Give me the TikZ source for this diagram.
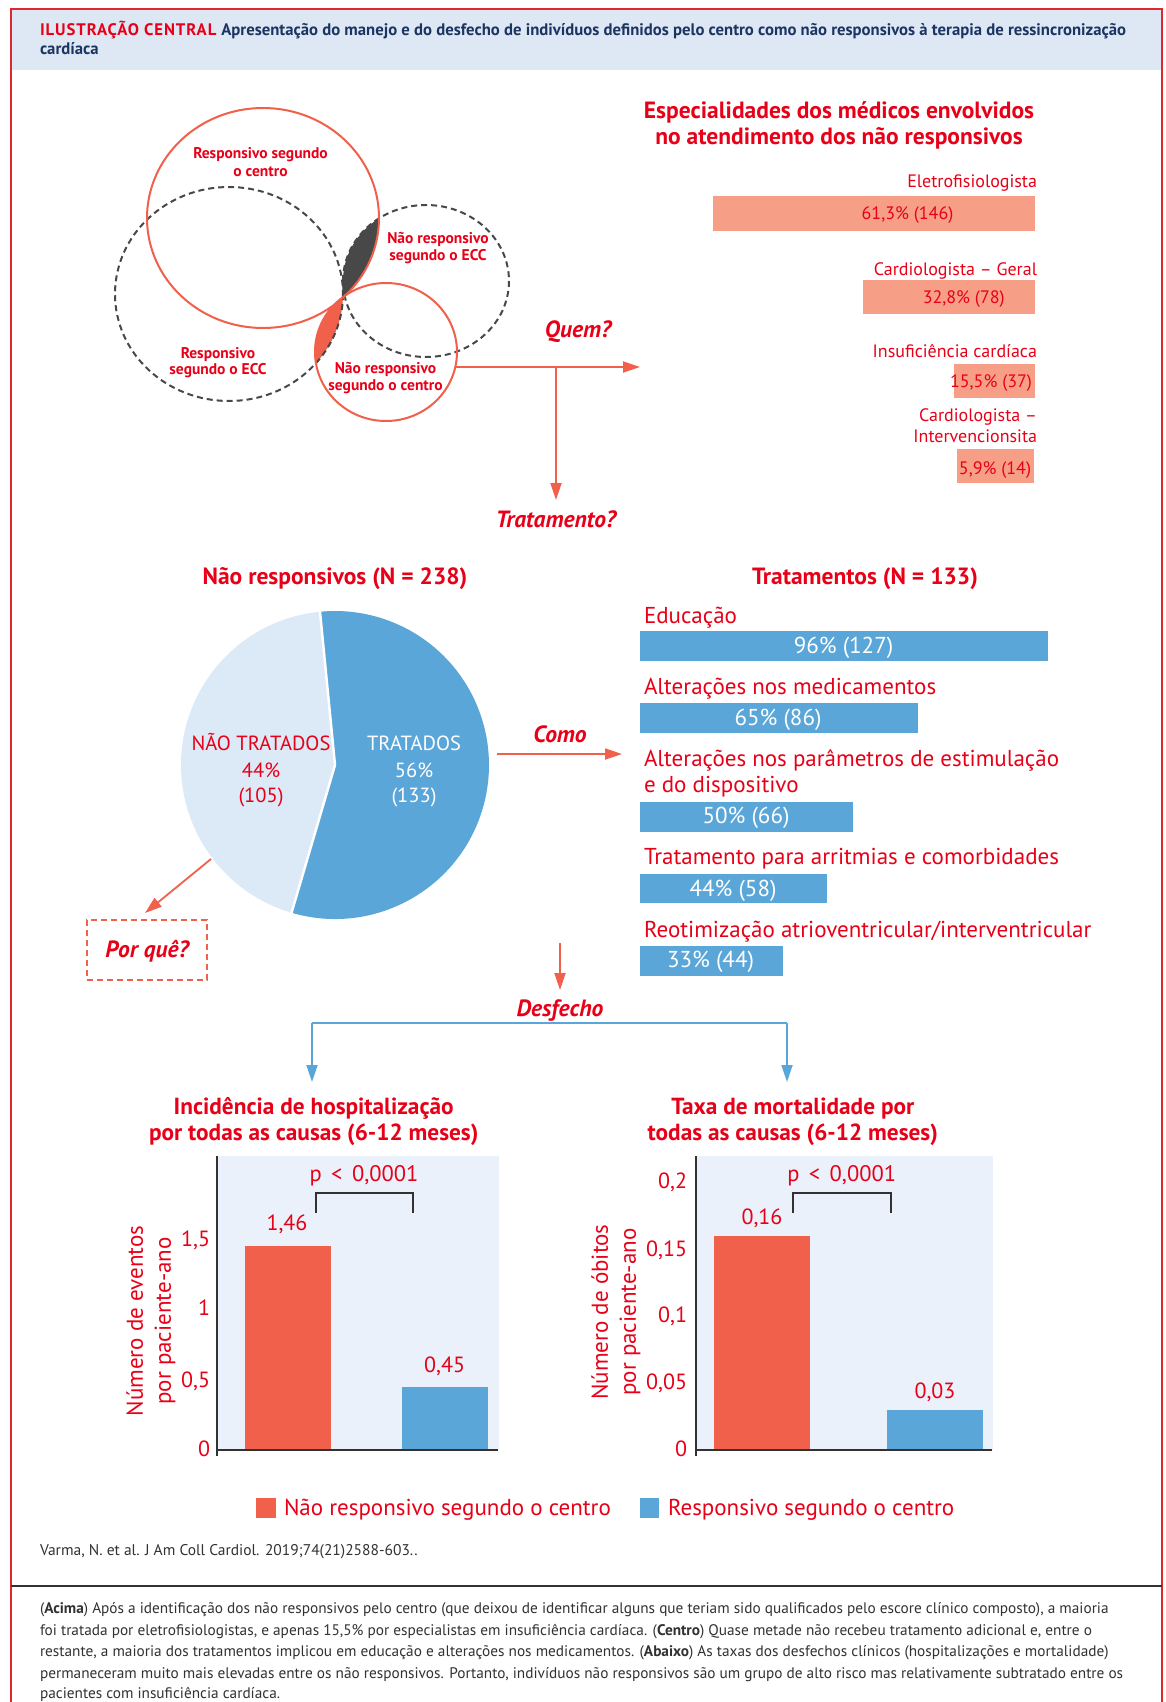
\documentclass[tikz,border=0pt]{standalone}
\usepackage{fontspec}
\setmainfont{PT Sans}
\usetikzlibrary{arrows.meta}
\definecolor{cred}{RGB}{232,0,24}
\definecolor{csal}{RGB}{240,96,74}
\definecolor{cbarsal}{RGB}{246,158,134}
\definecolor{cblue}{RGB}{91,166,217}
\definecolor{cpie}{RGB}{220,233,246}
\definecolor{cbg}{RGB}{234,241,250}
\definecolor{chead}{RGB}{221,232,244}
\definecolor{cnavy}{RGB}{28,52,98}
\definecolor{cframe}{RGB}{222,40,46}
\definecolor{cdash}{RGB}{72,72,72}
\definecolor{caxis}{RGB}{50,50,50}
\definecolor{cfoot}{RGB}{50,50,50}
\newcommand\fsz[1]{\fontsize{#1}{#1}\selectfont}
\newcommand\fszl[2]{\fontsize{#1}{#2}\selectfont}
\begin{document}
\begin{tikzpicture}[x=1pt,y=-1pt,
  every node/.style={inner sep=0pt, outer sep=0pt},
  venlbl/.style={text=cred, font=\bfseries\fsz{15.5}, anchor=base},
  sectitle/.style={text=cred, font=\bfseries\fsz{23.5}, anchor=base},
  charttitle/.style={text=cred, font=\bfseries\fsz{23.3}, anchor=base},
  spelbl/.style={text=cred, font=\fsz{18}, anchor=base east},
  speval/.style={text=cred, font=\fsz{18}, anchor=base},
  trlbl/.style={text=cred, font=\fsz{23}, anchor=base west},
  trval/.style={text=white, font=\fsz{23}, anchor=base},
  question/.style={text=cred, font=\bfseries\itshape\fsz{23.5}, anchor=base},
  conn/.style={draw=csal, line width=1.8pt, -{Triangle[length=17pt,width=11pt]}},
  bconn/.style={draw=cblue, line width=1.8pt, -{Triangle[length=17pt,width=11pt]}},
  bline/.style={draw=cblue, line width=1.8pt},
  dashell/.style={draw=cdash, line width=2pt, dash pattern=on 6pt off 4pt},
  redell/.style={draw=csal, line width=2pt},
  pielbl/.style={font=\fsz{20.5}, anchor=base},
  chartval/.style={text=cred, font=\fsz{22}, anchor=base},
  ticklbl/.style={text=cred, font=\fsz{22}, anchor=base east},
  axisline/.style={draw=caxis, line width=2.5pt},
  brk/.style={draw=caxis, line width=2pt},
  legtxt/.style={text=cred, font=\fsz{23}, anchor=base west},
  footln/.style={text=cfoot, font=\fsz{15.3}, anchor=base west},
  axtitle/.style={text=cred, font=\fszl{23}{28}, align=center, rotate=90}
]
\useasboundingbox (0,0) rectangle (1166,1702);
\fill[white] (0,0) rectangle (1166,1702);
% header
\fill[chead] (11,9) rectangle (1162,70);
\draw[cframe, line width=2pt] (10.5,1702) -- (10.5,9) -- (1162,9) -- (1162,1702);
\node[anchor=base west, font=\bfseries\fsz{16.7}] (hd1) at (40,36)
  {\textcolor{cred}{\addfontfeature{LetterSpace=5.6}ILUSTRAÇÃO CENTRAL}\hspace{5pt}\textcolor{cnavy}{Apresentação do manejo e do desfecho de indivíduos definidos pelo centro como não responsivos à terapia de ressincronização}};
\node[anchor=base west, font=\bfseries\fsz{16.7}, text=cnavy] (hd2) at (40,55) {cardíaca};

% Venn
\begin{scope}
  \clip (263,218) ellipse [x radius=116, y radius=110];
  \fill[cdash] (426,281) ellipse [x radius=83, y radius=76];
\end{scope}
\begin{scope}
  \clip (386,352) ellipse [x radius=71, y radius=69];
  \fill[csal] (229,294) ellipse [x radius=114, y radius=107];
\end{scope}
\draw[dashell] (229,294) ellipse [x radius=114, y radius=107];
\draw[dashell] (426,281) ellipse [x radius=83, y radius=76];
\draw[redell] (263,218) ellipse [x radius=116, y radius=110];
\draw[redell] (386,352) ellipse [x radius=71, y radius=69];
\node[venlbl] (vl1a) at (260.5,158) {Responsivo segundo};
\node[venlbl] (vl1b) at (260.5,176) {o centro};
\node[venlbl] (vl2a) at (438,243) {Não responsivo};
\node[venlbl] (vl2b) at (438,260) {segundo o ECC};
\node[venlbl] (vl3a) at (218,358) {Responsivo};
\node[venlbl] (vl3b) at (218,374) {segundo o ECC};
\node[venlbl] (vl4a) at (385.5,373) {Não responsivo};
\node[venlbl] (vl4b) at (385.5,390) {segundo o centro};

% Quem / Tratamento arrows
\coordinate (qS) at (455,367);
\coordinate (qB) at (556,367);
\coordinate (qE) at (640,367);
\coordinate (tE) at (556,500);
\draw[conn] (qS) -- (qE);
\draw[conn] (qB) -- (tE);
\node[question] (quem) at (578,337) {Quem?};
\node[question] (trat) at (556,527) {Tratamento?};

% Specialties
\node[sectitle] (spt1) at (839,118) {Especialidades dos médicos envolvidos};
\node[sectitle] (spt2) at (839,144) {no atendimento dos não responsivos};
\node[spelbl] (sp1l) at (1037,187) {Eletrofisiologista};
\fill[cbarsal] (713,196) rectangle (1035,231);
\node[speval] (sp1v) at (907.5,219) {61,3\% (146)};
\node[spelbl] (sp2l) at (1037,275) {Cardiologista – Geral};
\fill[cbarsal] (863,280) rectangle (1035,314);
\node[speval] (sp2v) at (963.7,303) {32,8\% (78)};
\node[spelbl] (sp3l) at (1037,357) {Insuficiência cardíaca};
\fill[cbarsal] (954,364) rectangle (1035,398);
\node[speval] (sp3v) at (991,387) {15,5\% (37)};
\node[spelbl] (sp4l) at (1037,421) {Cardiologista –};
\node[spelbl] (sp4m) at (1037,442) {Intervencionsita};
\fill[cbarsal] (957,449) rectangle (1034,483);
\node[speval] (sp4v) at (995,474) {5,9\% (14)};

% Pie
\node[sectitle] (piet) at (335,584) {Não responsivos (N = 238)};
\coordinate (pc) at (335,765);
\fill[cpie] (pc) -- +(-95.6:154) arc[start angle=-95.6, end angle=-253.6, radius=154] -- cycle;
\fill[cblue] (pc) -- +(-253.6:154) arc[start angle=-253.6, end angle=-455.6, radius=154] -- cycle;
\draw[white, line width=2.5pt] (pc) -- +(-95.6:155) (pc) -- +(-253.6:155);
\node[pielbl, text=cred] (nt1) at (261,750) {NÃO TRATADOS};
\node[pielbl, text=cred] (nt2) at (261,777) {44\%};
\node[pielbl, text=cred] (nt3) at (261,802) {(105)};
\node[pielbl, text=white] (tr1) at (414,750) {TRATADOS};
\node[pielbl, text=white] (tr2) at (414,777) {56\%};
\node[pielbl, text=white] (tr3) at (414,802) {(133)};

% Por que
\coordinate (pqS) at (211,859);
\coordinate (pqE) at (145,913);
\draw[conn] (pqS) -- (pqE);
\node[draw=csal, line width=2pt, dash pattern=on 6pt off 4pt, minimum width=120pt, minimum height=60pt] (pqbox) at (147,950) {};
\node[question] (porq) at (147,957) {Por quê?};

% Como
\coordinate (cS) at (497,754);
\coordinate (cE) at (622,754);
\draw[conn] (cS) -- (cE);
\node[question] (como) at (560,742) {Como};

% Treatments
\node[sectitle] (trt) at (865,584) {Tratamentos (N = 133)};
\node[trlbl] (e1) at (644,623) {Educação};
\fill[cblue] (640,631) rectangle (1048,661);
\node[trval] (v1) at (843.5,653) {96\% (127)};
\node[trlbl] (e2) at (644,694) {Alterações nos medicamentos};
\fill[cblue] (640,703) rectangle (918,733);
\node[trval] (v2) at (778,725) {65\% (86)};
\node[trlbl] (e3a) at (644,766) {Alterações nos parâmetros de estimulação};
\node[trlbl] (e3b) at (644,792) {e do dispositivo};
\fill[cblue] (640,802) rectangle (853,832);
\node[trval] (v3) at (746,823) {50\% (66)};
\node[trlbl] (e4) at (644,864) {Tratamento para arritmias e comorbidades};
\fill[cblue] (640,874) rectangle (827,903);
\node[trval] (v4) at (733,896) {44\% (58)};
\node[trlbl] (e5) at (644,937) {Reotimização atrioventricular/interventricular};
\fill[cblue] (640,946) rectangle (783,976);
\node[trval] (v5) at (710.5,967) {33\% (44)};

% Desfecho
\coordinate (dS) at (560,943);
\coordinate (dE) at (560,990);
\draw[conn] (dS) -- (dE);
\node[question] (desf) at (560,1016) {Desfecho};
\coordinate (bL) at (312,1023);
\coordinate (bR) at (787,1023);
\coordinate (bLE) at (312,1082);
\coordinate (bRE) at (787,1082);
\draw[bline] (bL) -- (bR);
\draw[bconn] (bL) -- (bLE);
\draw[bconn] (bR) -- (bRE);

% Left chart
\node[charttitle] (h1a) at (313.7,1114) {Incidência de hospitalização};
\node[charttitle] (h1b) at (313.7,1140) {por todas as causas (6-12 meses)};
\fill[cbg] (218,1156) rectangle (499,1450);
\fill[csal] (245,1450) rectangle (331,1246);
\fill[cblue] (402,1450) rectangle (488,1387);
\draw[axisline] (217,1156) -- (217,1456);
\draw[axisline] (216,1450) -- (498,1450);
\node[ticklbl] (lt0) at (210,1456) {0};
\node[ticklbl] (lt1) at (210,1387) {0,5};
\node[ticklbl] (lt2) at (210,1315) {1};
\node[ticklbl] (lt3) at (210,1246) {1,5};
\node[chartval] (lv1) at (287,1230) {1,46};
\node[chartval] (lv2) at (444.7,1372) {0,45};
\node[chartval, font=\fsz{22.5}] (lp) at (364,1181) {p\hspace{0.42em}<\hspace{0.42em}0,0001};
\draw[brk] (316,1213) -- (316,1193) -- (413,1193) -- (413,1213);
\node[axtitle] (lax) at (151,1321) {Número de eventos\\por paciente-ano};

% Right chart
\node[charttitle] (m1a) at (792.8,1114) {Taxa de mortalidade por};
\node[charttitle] (m1b) at (792.8,1140) {todas as causas (6-12 meses)};
\fill[cbg] (697,1156) rectangle (993,1450);
\fill[csal] (714,1450) rectangle (810,1236);
\fill[cblue] (887,1450) rectangle (983,1410);
\draw[axisline] (696,1156) -- (696,1456);
\draw[axisline] (695,1450) -- (992,1450);
\node[ticklbl] (rt0) at (687,1456) {0};
\node[ticklbl] (rt1) at (687,1389) {0,05};
\node[ticklbl] (rt2) at (687,1322) {0,1};
\node[ticklbl] (rt3) at (687,1256) {0,15};
\node[ticklbl] (rt4) at (687,1188) {0,2};
\node[chartval] (rv1) at (762,1224) {0,16};
\node[chartval] (rv2) at (935,1398) {0,03};
\node[chartval, font=\fsz{22.5}] (rp) at (841.7,1181) {p\hspace{0.42em}<\hspace{0.42em}0,0001};
\draw[brk] (793,1213) -- (793,1193) -- (891,1193) -- (891,1213);
\node[axtitle] (rax) at (616,1312) {Número de óbitos\\por paciente-ano};

% Legend
\fill[csal] (256,1498) rectangle (276,1518);
\node[legtxt] (lg1) at (284,1515) {Não responsivo segundo o centro};
\fill[cblue] (640,1498) rectangle (659,1518);
\node[legtxt] (lg2) at (668,1515) {Responsivo segundo o centro};

% Citation and footnote
\node[footln, font=\fsz{15.5}] (cit) at (40,1555) {Varma, N. et al. J Am Coll Cardiol. 2019;74(21)2588-603..};
\draw[caxis, line width=1.5pt] (11,1586) -- (1162,1586);
\node[footln] (f1) at (40,1613) {(\textbf{Acima}) Após a identificação dos não responsivos pelo centro (que deixou de identificar alguns que teriam sido qualificados pelo escore clínico composto), a maioria};
\node[footln] (f2) at (40,1635) {foi tratada por eletrofisiologistas, e apenas 15,5\% por especialistas em insuficiência cardíaca. (\textbf{Centro}) Quase metade não recebeu tratamento adicional e, entre o};
\node[footln] (f3) at (40,1656) {restante, a maioria dos tratamentos implicou em educação e alterações nos medicamentos. (\textbf{Abaixo}) As taxas dos desfechos clínicos (hospitalizações e mortalidade)};
\node[footln] (f4) at (40,1678) {permaneceram muito mais elevadas entre os não responsivos. Portanto, indivíduos não responsivos são um grupo de alto risco mas relativamente subtratado entre os};
\node[footln] (f5) at (40,1698) {pacientes com insuficiência cardíaca.};
\end{tikzpicture}
\end{document}
